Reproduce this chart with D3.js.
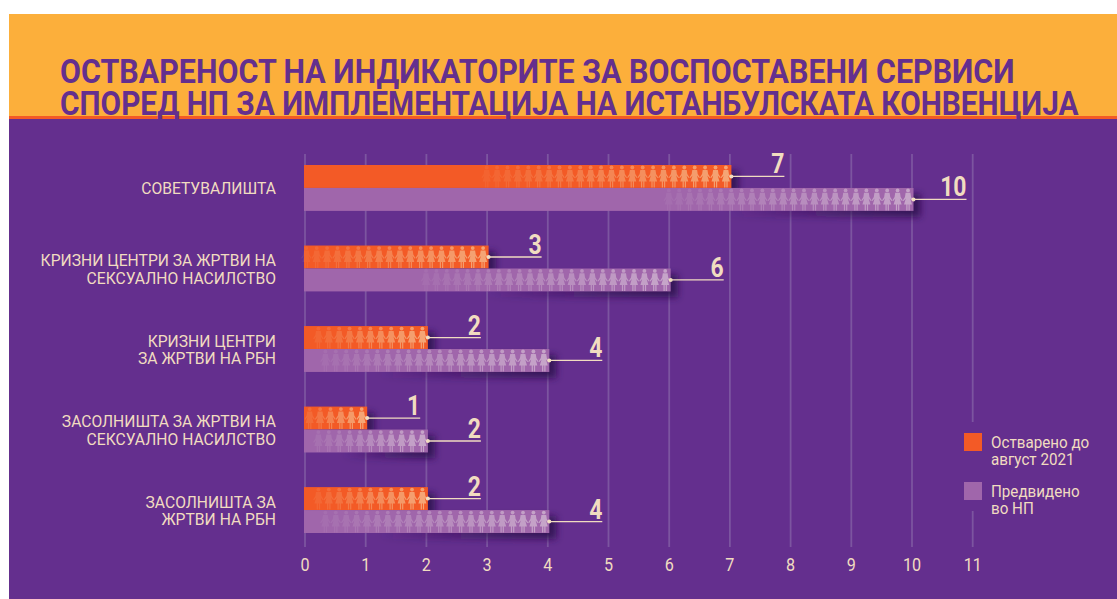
<!DOCTYPE html>
<html lang="mk">
<head>
    <meta charset="UTF-8">
    <title>Оствареност на индикаторите</title>
    <script src="https://cdn.jsdelivr.net/npm/d3@7"></script>
    <style>
        html, body { margin: 0; padding: 0; background: #fff; overflow: hidden; }
        text { font-family: Roboto, sans-serif; }
    </style>
</head>
<body>
    <script>
    // data
        var categories = ["СОВЕТУВАЛИШТА", "КРИЗНИ ЦЕНТРИ ЗА ЖРТВИ НА|СЕКСУАЛНО НАСИЛСТВО", "КРИЗНИ ЦЕНТРИ|ЗА ЖРТВИ НА РБН", "ЗАСОЛНИШТА ЗА ЖРТВИ НА|СЕКСУАЛНО НАСИЛСТВО", "ЗАСОЛНИШТА ЗА|ЖРТВИ НА РБН"];
        var achieved = [7, 3, 2, 1, 2];
        var planned = [10, 6, 4, 2, 4];
        var achievedIcons = [24, 18, 11, 6, 11];
        var plannedIcons = [24, 24, 22, 11, 22];
        var seriesNames = ["achieved", "planned"];
        var legendLabels = [["Остварено до", "август 2021"], ["Предвидено", "во НП"]];
        var titleLines = ["ОСТВАРЕНОСТ НА ИНДИКАТОРИТЕ ЗА ВОСПОСТАВЕНИ СЕРВИСИ", "СПОРЕД НП ЗА ИМПЛЕМЕНТАЦИЈА НА ИСТАНБУЛСКАТА КОНВЕНЦИЈА"];
        var titleWidths = [955, 1019];
        var ticks = d3.range(0, 12);

        var width = 1117, height = 599;
        var orange = "#fcaf3b", red = "#f35a26", purple = "#642f8e", lilac = "#a066ab", cream = "#f1dcc0";

        var svg = d3.select("body").append("svg")
                .attr("width", width)
                .attr("height", height)
                .style("display", "block");

        // no narrow font is installed, so text is squeezed sideways
        function squeeze(x, y, sx) {
            return "translate(" + x + "," + y + ") scale(" + sx + ",1)";
        }
        // several lines inside one text element
        function addLines(sel, lines, lineHeight) {
            sel.selectAll("tspan").data(lines).enter().append("tspan")
                    .attr("x", 0)
                    .attr("y", function(d, i) { return i * lineHeight; })
                    .text(function(d) { return d; });
        }

        var defs = svg.append("defs");
        defs.append("filter").attr("id", "blur")
                .attr("x", "-20%").attr("y", "-50%").attr("width", "140%").attr("height", "200%")
                .append("feGaussianBlur").attr("stdDeviation", 3.5);
        var grad = defs.append("linearGradient").attr("id", "fade");
        grad.append("stop").attr("offset", 0).attr("stop-color", "#2c0f4c").attr("stop-opacity", 0);
        grad.append("stop").attr("offset", 0.75).attr("stop-color", "#2c0f4c").attr("stop-opacity", 0.7);
        grad.append("stop").attr("offset", 1).attr("stop-color", "#2c0f4c").attr("stop-opacity", 0.85);

        // one person, holding hands with the neighbours; origin at the head centre
        var person = defs.append("g").attr("id", "person");
        person.append("circle").attr("cx", 0).attr("cy", 0).attr("r", 1.9);
        person.append("path").attr("d", "M-2.4,2.4 L2.4,2.4 L3,6.5 L5.2,10 L4.4,10.6 L2.2,8 L4,14 L1.7,14 L1.7,20 L0.5,20 L0.5,14 L-0.5,14 L-0.5,20 L-1.7,20 L-1.7,14 L-4,14 L-2.2,8 L-4.4,10.6 L-5.2,10 L-3,6.5 Z");

    // background panels
        svg.append("rect").attr("x", 9).attr("y", 14).attr("width", width - 9).attr("height", 102).attr("fill", orange);
        svg.append("rect").attr("x", 9).attr("y", 119).attr("width", width - 9).attr("height", height - 119).attr("fill", purple);
        svg.append("rect").attr("x", 9).attr("y", 116).attr("width", width - 9).attr("height", 3).attr("fill", red);

        svg.selectAll(".title").data(titleLines).enter().append("text")
                .attr("class", "title")
                .attr("font-size", 33.5)
                .attr("font-weight", "bold")
                .attr("fill", purple)
                .text(function(d) { return d; })
                .attr("transform", function(d, i) {
                    return squeeze(60, 83 + i * 32, titleWidths[i] / this.getComputedTextLength());
                });

    // scales
        var x = d3.scaleLinear().domain([0, 11]).range([305, 972.7]);
        var barOffset = 1.5;   // bars run a little past their gridline
        var y0 = d3.scaleBand().domain(categories).range([165, 533]).paddingInner(0.43);
        var y1 = d3.scaleBand().domain(seriesNames).range([0, y0.bandwidth()]);

    // gridlines and tick labels
        var axis = d3.axisBottom(x).tickValues(ticks).tickFormat(d3.format("d"))
                .tickSizeInner(-393).tickSizeOuter(0).tickPadding(10).offset(0);
        var gAxis = svg.append("g").attr("transform", "translate(0,547)").call(axis);
        gAxis.select(".domain").remove();
        gAxis.selectAll("line").attr("stroke", "#7c55a0").attr("stroke-width", 1.8);
        gAxis.selectAll("text").attr("fill", cream).attr("font-size", 19).attr("font-family", "Roboto, sans-serif")
                .attr("dy", null)
                .attr("y", null)
                .attr("transform", "translate(0,24) scale(0.85,1)");

    // bars
        var rows = [];
        categories.forEach(function(c, i) {
            rows.push({ cat: c, key: "achieved", value: achieved[i], icons: achievedIcons[i], color: red });
            rows.push({ cat: c, key: "planned", value: planned[i], icons: plannedIcons[i], color: lilac });
        });
        var spacing = 10.4;
        function yPos(d) { return y0(d.cat) + y1(d.key); }
        function barEnd(d) { return x(d.value) + barOffset; }
        function barMid(d) { return yPos(d) + y1.bandwidth() / 2; }

        svg.selectAll(".shadow").data(rows).enter().append("rect")
                .attr("class", "shadow")
                .attr("x", function(d) { return barEnd(d) - d.icons * spacing * 0.75; })
                .attr("y", function(d) { return yPos(d) + 6; })
                .attr("width", function(d) { return d.icons * spacing * 0.75 + 7; })
                .attr("height", y1.bandwidth())
                .attr("fill", "url(#fade)")
                .attr("filter", "url(#blur)");

        svg.selectAll(".bar").data(rows).enter().append("rect")
                .attr("class", "bar")
                .attr("x", 304)
                .attr("y", yPos)
                .attr("width", function(d) { return barEnd(d) - 304; })
                .attr("height", y1.bandwidth())
                .attr("fill", function(d) { return d.color; });

    // rows of people, fading towards the left
        rows.forEach(function(d) {
            var g = svg.append("g").attr("fill", d.key == "achieved" ? "#f6c99b" : "#d9c3d8");
            g.selectAll("use").data(d3.range(d.icons)).enter().append("use")
                    .attr("href", "#person")
                    .attr("x", function(i) { return barEnd(d) - 5.5 - i * spacing; })
                    .attr("y", yPos(d) + 2.5)
                    .attr("opacity", function(i) { return 0.62 * (1 - i / d.icons) + 0.06; });
        });

    // leader lines and value labels
        var leaderLen = 53;
        svg.selectAll(".leader").data(rows).enter().append("line")
                .attr("class", "leader")
                .attr("x1", barEnd)
                .attr("x2", function(d) { return barEnd(d) + leaderLen; })
                .attr("y1", barMid)
                .attr("y2", barMid)
                .attr("stroke", cream)
                .attr("stroke-width", 1.3);
        svg.selectAll(".dot").data(rows).enter().append("circle")
                .attr("class", "dot")
                .attr("cx", barEnd)
                .attr("cy", barMid)
                .attr("r", 2)
                .attr("fill", cream);
        svg.selectAll(".val").data(rows).enter().append("text")
                .attr("class", "val")
                .attr("transform", function(d) { return squeeze(barEnd(d) + leaderLen, barMid(d) - 3, 0.85); })
                .attr("text-anchor", "end")
                .attr("font-size", 27)
                .attr("font-weight", "bold")
                .attr("fill", cream)
                .text(function(d) { return d.value; });

    // category labels
        var catLine = 17.5;
        categories.forEach(function(c) {
            var parts = c.split("|");
            var mid = y0(c) + y0.bandwidth() / 2;
            svg.append("text")
                    .attr("class", "cat")
                    .attr("text-anchor", "end")
                    .attr("font-size", 16.5)
                    .attr("fill", cream)
                    .attr("transform", squeeze(276, mid + 6.5 - (parts.length - 1) / 2 * catLine, 0.95))
                    .call(addLines, parts, catLine);
        });

    // legend, sits on a patch that breaks the last gridline
        svg.append("rect").attr("x", 960).attr("y", 422).attr("width", 140).attr("height", 89).attr("fill", purple);
        var legend = svg.selectAll(".legend").data(legendLabels).enter().append("g")
                .attr("class", "legend")
                .attr("transform", function(d, i) { return "translate(964," + (433 + i * 49) + ")"; });
        legend.append("rect").attr("width", 18).attr("height", 18)
                .attr("fill", function(d, i) { return i == 0 ? red : lilac; });
        legend.append("text")
                .attr("transform", squeeze(27, 15, 0.95))
                .attr("font-size", 16)
                .attr("fill", cream)
                .each(function(d) { d3.select(this).call(addLines, d, 17); });
    </script>
</body>
</html>
